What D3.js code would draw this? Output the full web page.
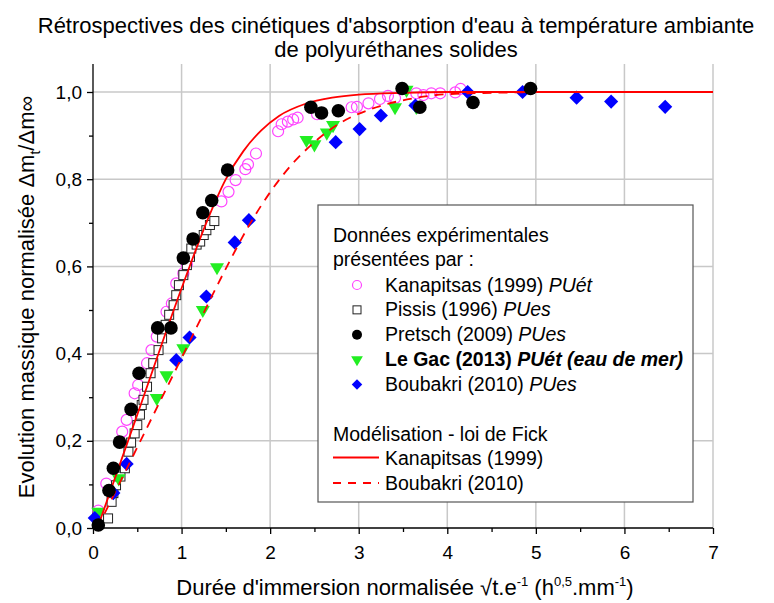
<!DOCTYPE html>
<html><head><meta charset="utf-8">
<script src="https://cdn.jsdelivr.net/npm/d3@7"></script>
<style>body{margin:0;background:#fff;} svg{font-family:"Liberation Sans",Arial,sans-serif;}</style>
</head><body>
<svg id="chart" width="774" height="603"></svg>
<script>
// ---- data ----
const xTicks = [0,1,2,3,4,5,6,7];
const yTicks = [0,0.2,0.4,0.6,0.8,1.0];

const kanapitsas = [[0.06,0.04],[0.15,0.102],[0.33,0.221],[0.38,0.248],[0.47,0.309],[0.51,0.328],[0.61,0.378],[0.66,0.408],[0.72,0.439],[0.83,0.496],[0.89,0.515],[0.94,0.561],[1.02,0.584],[1.06,0.605],[1.45,0.749],[1.53,0.771],[1.61,0.798],[1.72,0.823],[1.75,0.834],[1.84,0.859],[2.09,0.91],[2.13,0.926],[2.20,0.932],[2.26,0.937],[2.31,0.941],[2.53,0.949],[2.92,0.965],[2.98,0.966],[3.11,0.974],[3.24,0.984],[3.33,0.991],[3.41,0.986],[3.65,0.997],[3.73,0.993],[3.82,0.997],[3.92,0.997],[4.09,0.999],[4.15,1.007]];

const pissis = [[0.17,0.022],[0.21,0.06],[0.23,0.08],[0.26,0.098],[0.31,0.118],[0.36,0.137],[0.40,0.175],[0.43,0.196],[0.47,0.217],[0.50,0.236],[0.53,0.26],[0.55,0.282],[0.57,0.294],[0.61,0.324],[0.65,0.355],[0.68,0.378],[0.74,0.408],[0.78,0.435],[0.82,0.466],[0.86,0.489],[0.91,0.511],[0.94,0.534],[0.97,0.557],[1.02,0.58],[1.06,0.603],[1.095,0.622],[1.11,0.641],[1.17,0.65],[1.21,0.657],[1.25,0.672],[1.28,0.683],[1.32,0.695],[1.37,0.704]];

const pretsch = [[0.06,0.007],[0.18,0.086],[0.23,0.137],[0.30,0.197],[0.43,0.272],[0.52,0.355],[0.73,0.459],[0.88,0.459],[1.02,0.619],[1.13,0.663],[1.24,0.723],[1.34,0.751],[1.52,0.821],[2.46,0.965],[2.58,0.952],[2.77,0.957],[3.49,1.008],[3.69,0.965],[4.29,0.976],[4.94,1.008]];

const legac = [[0.06,0.037],[0.29,0.114],[0.72,0.298],[0.83,0.35],[1.02,0.412],[1.24,0.5],[1.40,0.598],[2.41,0.89],[2.50,0.88],[2.64,0.907],[2.71,0.924],[3.41,0.965],[3.54,1.005],[3.65,0.966]];

const boubakri = [[0.02,0.023],[0.23,0.08],[0.38,0.147],[0.94,0.385],[1.09,0.437],[1.28,0.531],[1.60,0.655],[1.76,0.706],[2.74,0.885],[3.01,0.915],[3.25,0.946],[3.64,0.969],[4.23,1.0],[4.85,1.0],[5.46,0.987],[5.85,0.978],[6.46,0.966]];

const fickKanapitsas = [[0.05,0],[0.5,0.26],[1.0,0.55],[1.1,0.605],[1.3,0.71],[1.5,0.80],[1.7,0.865],[1.9,0.912],[2.1,0.945],[2.4,0.973],[2.7,0.987],[3.0,0.994],[3.5,0.998],[4.0,1.0],[7.0,1.0]];
const fickBoubakri = [[0.05,0],[0.5,0.185],[1.0,0.39],[1.5,0.595],[1.75,0.69],[2.0,0.77],[2.25,0.835],[2.5,0.885],[2.8,0.93],[3.2,0.965],[3.6,0.985],[4.0,0.995],[4.5,0.998],[5.2,1.0]];

// ---- layout ----
const svg = d3.select("#chart");
const W = 774;
const x = d3.scaleLinear().domain([0,7]).range([93, 713]);
const y = d3.scaleLinear().domain([0,1.0]).range([528, 92]);
const yTop = 64;

const fmt = d => d3.format(".1f")(d).replace(".", ",");

// grid
const g = svg.append("g");
g.selectAll(".vg").data(xTicks.filter(d=>d>0)).enter().append("line")
  .attr("x1",d=>x(d)).attr("x2",d=>x(d)).attr("y1",yTop).attr("y2",y(0))
  .attr("stroke","#c8c8c8").attr("stroke-width",1.5);
g.selectAll(".hg").data(yTicks.filter(d=>d>0)).enter().append("line")
  .attr("x1",x(0)).attr("x2",x(7)).attr("y1",d=>y(d)).attr("y2",d=>y(d))
  .attr("stroke","#c8c8c8").attr("stroke-width",1.5);

// axes
const xAxis = d3.axisBottom(x).tickValues(xTicks).tickSize(6).tickFormat(d3.format("d"));
const xMinor = d3.axisBottom(x).tickValues(d3.range(0.5,7,1)).tickSize(4).tickFormat("");
const gx = svg.append("g").attr("transform",`translate(0,${y(0)})`).call(xAxis);
svg.append("g").attr("transform",`translate(0,${y(0)})`).call(xMinor).select(".domain").remove();
gx.select(".domain").attr("d",`M${x(0)},0H${x(7)}`);
gx.selectAll("text").attr("font-size",19).attr("dy",22).attr("fill","#000");

const yAxis = d3.axisLeft(y).tickValues(yTicks).tickSize(6).tickFormat(fmt);
const yMinor = d3.axisLeft(y).tickValues([0.1,0.3,0.5,0.7,0.9]).tickSize(4).tickFormat("");
const gy = svg.append("g").attr("transform",`translate(${x(0)},0)`).call(yAxis);
svg.append("g").attr("transform",`translate(${x(0)},0)`).call(yMinor).select(".domain").remove();
gy.select(".domain").attr("d",`M0,${yTop}V${y(0)}`);
gy.selectAll("text").attr("font-size",19).attr("x",-11).attr("fill","#000");
svg.selectAll(".domain,.tick line").attr("stroke","#000").attr("stroke-width",1.3);

// marks
const line = d3.line().x(d=>x(d[0])).y(d=>y(d[1])).curve(d3.curveMonotoneX);

svg.append("g").selectAll("circle").data(kanapitsas).enter().append("circle")
  .attr("cx",d=>x(d[0])).attr("cy",d=>y(d[1])).attr("r",5.5)
  .attr("fill","none").attr("stroke","#ff44ff").attr("stroke-width",1.2);

svg.append("g").selectAll("rect").data(pissis).enter().append("rect")
  .attr("x",d=>x(d[0])-4.5).attr("y",d=>y(d[1])-4.5).attr("width",9).attr("height",9)
  .attr("fill","#fff").attr("stroke","#222").attr("stroke-width",1);

const tri = d3.symbol().type(d3.symbolTriangle).size(85);
svg.append("g").selectAll("path").data(legac).enter().append("path")
  .attr("d",tri).attr("transform",d=>`translate(${x(d[0])},${y(d[1])}) rotate(180)`)
  .attr("fill","#22ee22");

const dia = d3.symbol().type(d3.symbolSquare).size(100);
svg.append("g").selectAll("path").data(boubakri).enter().append("path")
  .attr("d",dia).attr("transform",d=>`translate(${x(d[0])},${y(d[1])}) rotate(45)`)
  .attr("fill","#0000ff");

svg.append("path").datum(fickBoubakri).attr("d",line).attr("fill","none")
  .attr("stroke","#ff0000").attr("stroke-width",1.8).attr("stroke-dasharray","9,7");
svg.append("path").datum(fickKanapitsas).attr("d",line).attr("fill","none")
  .attr("stroke","#ff0000").attr("stroke-width",1.8);

svg.append("g").selectAll("circle").data(pretsch).enter().append("circle")
  .attr("cx",d=>x(d[0])).attr("cy",d=>y(d[1])).attr("r",6.8).attr("fill","#000");

// title
const title = svg.append("text").attr("text-anchor","middle").attr("font-size",22).attr("fill","#000");
title.append("tspan").attr("x",396).attr("y",33).text("Rétrospectives des cinétiques d'absorption d'eau à température ambiante");
title.append("tspan").attr("x",396).attr("y",57).text("de polyuréthanes solides");

// axis labels
const xl = svg.append("text").attr("x",405).attr("y",595).attr("text-anchor","middle").attr("font-size",22).attr("fill","#000");
xl.append("tspan").text("Durée d'immersion normalisée √t.e");
xl.append("tspan").attr("font-size",13).attr("dy",-9).text("-1");
xl.append("tspan").attr("dy",9).text(" (h");
xl.append("tspan").attr("font-size",13).attr("dy",-9).text("0,5");
xl.append("tspan").attr("dy",9).text(".mm");
xl.append("tspan").attr("font-size",13).attr("dy",-9).text("-1");
xl.append("tspan").attr("dy",9).text(")");

const yl = svg.append("text").attr("transform","translate(34,297) rotate(-90)").attr("text-anchor","middle").attr("font-size",22).attr("fill","#000");
yl.append("tspan").text("Evolution massique normalisée Δm");
yl.append("tspan").attr("font-size",14).attr("dy",6).text("t");
yl.append("tspan").attr("dy",-6).text("/Δm∞");

// legend
const lg = svg.append("g");
lg.append("rect").attr("x",318).attr("y",205).attr("width",375).attr("height",297)
  .attr("fill","#fff").attr("stroke","#555").attr("stroke-width",1.2);
const fs = 19.5;
lg.append("text").attr("x",333).attr("y",242).attr("font-size",fs).text("Données expérimentales");
lg.append("text").attr("x",333).attr("y",265.5).attr("font-size",fs).text("présentées par :");
const items = [
  {name:"Kanapitsas (1999) ", it:"PUét", type:"circleOpen", bold:false},
  {name:"Pissis (1996) ", it:"PUes", type:"square", bold:false},
  {name:"Pretsch (2009) ", it:"PUes", type:"circle", bold:false},
  {name:"Le Gac (2013) ", it:"PUét (eau de mer)", type:"tri", bold:true},
  {name:"Boubakri (2010) ", it:"PUes", type:"diamond", bold:false}
];
items.forEach((it,i)=>{
  const cy = 285 + i*24.85;
  const mx = 357;
  if(it.type==="circleOpen") lg.append("circle").attr("cx",mx).attr("cy",cy).attr("r",4.5).attr("fill","none").attr("stroke","#ff44ff").attr("stroke-width",1.2);
  if(it.type==="square") lg.append("rect").attr("x",mx-4).attr("y",cy-4).attr("width",8).attr("height",8).attr("fill","#fff").attr("stroke","#222");
  if(it.type==="circle") lg.append("circle").attr("cx",mx).attr("cy",cy).attr("r",5).attr("fill","#000");
  if(it.type==="tri") lg.append("path").attr("d",d3.symbol().type(d3.symbolTriangle).size(60)).attr("transform",`translate(${mx},${cy}) rotate(180)`).attr("fill","#22ee22");
  if(it.type==="diamond") lg.append("path").attr("d",d3.symbol().type(d3.symbolSquare).size(55)).attr("transform",`translate(${mx},${cy}) rotate(45)`).attr("fill","#0000ff");
  const t = lg.append("text").attr("x",385).attr("y",cy+6.5).attr("font-size",fs).attr("font-weight",it.bold?"bold":"normal");
  t.append("tspan").text(it.name);
  t.append("tspan").attr("font-style","italic").text(it.it);
});
lg.append("text").attr("x",333).attr("y",440.5).attr("font-size",fs).text("Modélisation - loi de Fick");
lg.append("line").attr("x1",333).attr("x2",379).attr("y1",457.5).attr("y2",457.5).attr("stroke","#ff0000").attr("stroke-width",1.8);
lg.append("text").attr("x",385).attr("y",465).attr("font-size",fs).text("Kanapitsas (1999)");
lg.append("line").attr("x1",333).attr("x2",379).attr("y1",483).attr("y2",483).attr("stroke","#ff0000").attr("stroke-width",1.8).attr("stroke-dasharray","8,7");
lg.append("text").attr("x",385).attr("y",489.5).attr("font-size",fs).text("Boubakri (2010)");
</script>
</body></html>
